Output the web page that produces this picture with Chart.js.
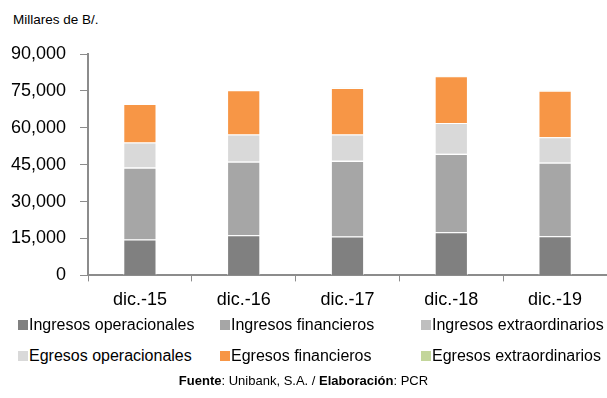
<!DOCTYPE html>
<html lang="es">
<head>
<meta charset="utf-8">
<title>Ingresos y egresos</title>
<script src="https://cdn.jsdelivr.net/npm/chart.js@4/dist/chart.umd.min.js"></script>
<style>
  body { margin: 0; background: #fff; font-family: "Liberation Sans", Arial, sans-serif; }
  #contenedor { position: relative; width: 607px; height: 398px; overflow: hidden; }
  #unidad { position: absolute; left: 13px; top: 12px; font-size: 13.5px; color: #000; }
  #lienzo { position: absolute; left: 0; top: 0; width: 607px; height: 319px; }
  .leyenda { position: absolute; font-size: 16px; color: #000; white-space: nowrap; line-height: 18px; }
  .leyenda span.cuadro { display: inline-block; width: 10px; height: 10px; margin-right: 1px; vertical-align: 0px; }
  #fuente { position: absolute; left: 0; width: 607px; top: 373px; text-align: center; font-size: 13px; color: #000; }
</style>
</head>
<body>
<div id="contenedor">
  <div id="unidad">Millares de B/.</div>
  <div id="lienzo"><canvas id="grafico" width="607" height="319"></canvas></div>
  <div id="leyenda"></div>
  <div id="fuente"><b>Fuente</b>: Unibank, S.A. / <b>Elaboración</b>: PCR</div>
</div>
<script>
// Datos en millares de B/.
const periodos = ["dic.-15", "dic.-16", "dic.-17", "dic.-18", "dic.-19"];
const ingresosOperacionales = [14560, 16360, 15790, 17590, 15960];
const ingresosFinancieros = [29210, 29870, 30680, 31750, 29870];
const ingresosExtraordinarios = [150, 120, 130, 140, 110];
const egresosOperacionales = [10060, 10880, 10640, 12440, 10230];
const egresosFinancieros = [15710, 18000, 18980, 19070, 18940];
const egresosExtraordinarios = [40, 30, 30, 40, 30];
const marcasEje = [0, 15000, 30000, 45000, 60000, 75000, 90000];

const series = [
  { nombre: "Ingresos operacionales", datos: ingresosOperacionales, color: "#808080" },
  { nombre: "Ingresos financieros", datos: ingresosFinancieros, color: "#a6a6a6" },
  { nombre: "Ingresos extraordinarios", datos: ingresosExtraordinarios, color: "#bfbfbf" },
  { nombre: "Egresos operacionales", datos: egresosOperacionales, color: "#d9d9d9" },
  { nombre: "Egresos financieros", datos: egresosFinancieros, color: "#f79646" },
  { nombre: "Egresos extraordinarios", datos: egresosExtraordinarios, color: "#c3d69b" },
];

const gris = "#8c8c8c";

const ctx = document.getElementById("grafico").getContext("2d");
new Chart(ctx, {
  type: "bar",
  data: {
    labels: periodos,
    datasets: series.map((s) => ({
      label: s.nombre,
      data: s.datos,
      backgroundColor: s.color,
      borderColor: "rgba(255,255,255,0.55)",
      borderWidth: 1,
      categoryPercentage: 1,
      barPercentage: 0.32,
    })),
  },
  options: {
    responsive: false,
    animation: false,
    layout: { padding: { top: 54, right: 0, bottom: 0, left: 0 } },
    plugins: {
      legend: { display: false },
      tooltip: { enabled: false },
    },
    scales: {
      x: {
        stacked: true,
        grid: { offset: true, drawOnChartArea: false, drawTicks: true, tickLength: 6, color: gris },
        border: { color: gris, width: 2 },
        ticks: { color: "#000", padding: 8, font: { family: "Liberation Sans", size: 18 } },
      },
      y: {
        stacked: true,
        min: 0,
        max: 90000,
        afterFit: (escala) => { escala.width = 88; },
        afterBuildTicks: (escala) => { escala.ticks = marcasEje.map((v) => ({ value: v })); },
        grid: { drawOnChartArea: false, drawTicks: true, tickLength: 8, color: gris, width: 2 },
        border: { color: gris, width: 2 },
        ticks: {
          color: "#000",
          padding: 14,
          font: { family: "Liberation Sans", size: 18 },
          callback: (v) => v.toLocaleString("en-US"),
        },
      },
    },
  },
});

// Leyenda en dos filas de tres columnas
const leyenda = document.getElementById("leyenda");
const columnas = [18, 220, 421];
const filas = [316, 347];
series.forEach((s, i) => {
  const item = document.createElement("div");
  item.className = "leyenda";
  item.style.left = columnas[i % 3] + "px";
  item.style.top = filas[Math.floor(i / 3)] + "px";
  item.innerHTML = '<span class="cuadro" style="background:' + s.color + '"></span>' + s.nombre;
  leyenda.appendChild(item);
});
</script>
</body>
</html>
